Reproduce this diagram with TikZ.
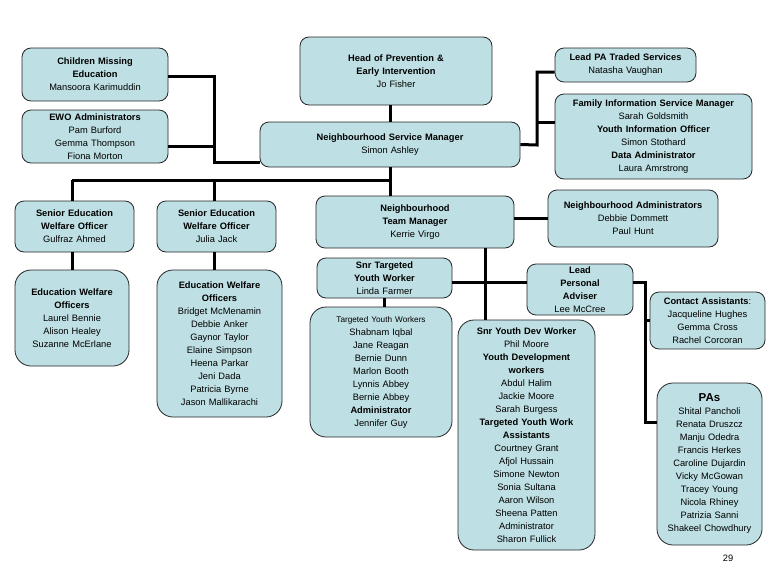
\documentclass[tikz,border=0pt]{standalone}
\usepackage{fontspec}
\setmainfont{Liberation Sans}
\begin{document}
\begin{tikzpicture}[x=1pt,y=-1pt,
  box/.style={draw=black!85,line width=0.8pt,fill=boxfill,rounded corners=9pt,align=center,inner sep=1pt,
    font=\fontsize{9.3}{13}\selectfont},
  tall/.style={box,rounded corners=16pt},
  link/.style={line width=3pt,black}]
\definecolor{boxfill}{HTML}{BEDFE3}
\useasboundingbox (0,0) rectangle (780,573);
% nodes
\node[box,minimum width=146,minimum height=53,text width=142] (cme) at (95,74.5) {\textbf{Children Missing}\\\textbf{Education}\\Mansoora Karimuddin};
\node[box,minimum width=146,minimum height=53,text width=142] (ewoa) at (95,136.5) {\textbf{EWO Administrators}\\Pam Burford\\Gemma Thompson\\Fiona Morton};
\node[box,minimum width=192,minimum height=68,text width=188] (head) at (396,71) {\textbf{Head of Prevention \&}\\\textbf{Early Intervention}\\Jo Fisher};
\node[box,minimum width=260,minimum height=45,text width=256] (nsm) at (390,144.5) {\textbf{Neighbourhood Service Manager}\\Simon Ashley};
\node[box,minimum width=141,minimum height=34,text width=137] (lpa) at (625.5,65) {\textbf{Lead PA Traded Services}\\Natasha Vaughan};
\node[box,minimum width=197,minimum height=85,text width=195] (fis) at (653.5,136.5) {\textbf{Family Information Service Manager}\\Sarah Goldsmith\\\textbf{Youth Information Officer}\\Simon Stothard\\\textbf{Data Administrator}\\Laura Amrstrong};
\node[box,minimum width=119,minimum height=51,text width=115] (sewo1) at (74.5,226.5) {\textbf{Senior Education}\\\textbf{Welfare Officer}\\Gulfraz Ahmed};
\node[box,minimum width=119,minimum height=51,text width=115] (sewo2) at (216.5,226.5) {\textbf{Senior Education}\\\textbf{Welfare Officer}\\Julia Jack};
\node[box,minimum width=198,minimum height=52,text width=194] (ntm) at (415,222) {\textbf{Neighbourhood}\\\textbf{Team Manager}\\Kerrie Virgo};
\node[box,minimum width=170,minimum height=57,text width=166] (nadm) at (633,218.5) {\textbf{Neighbourhood Administrators}\\Debbie Dommett\\Paul Hunt};
\node[tall,minimum width=114,minimum height=96,text width=110] (ewo1) at (72,318) {\textbf{Education Welfare}\\\textbf{Officers}\\Laurel Bennie\\Alison Healey\\Suzanne McErlane};
\node[tall,minimum width=125,minimum height=147,text width=121] (ewo2) at (219.5,343.5) {\textbf{Education Welfare}\\\textbf{Officers}\\Bridget McMenamin\\Debbie Anker\\Gaynor Taylor\\Elaine Simpson\\Heena Parkar\\Jeni Dada\\Patricia Byrne\\Jason Mallikarachi};
\node[box,minimum width=135,minimum height=40,text width=131] (styw) at (384.5,278) {\textbf{Snr Targeted}\\\textbf{Youth Worker}\\Linda Farmer};
\node[tall,minimum width=142,minimum height=130,text width=140] (tyw) at (381,372) {{\fontsize{8.2}{13}\selectfont Targeted Youth Workers}\\Shabnam Iqbal\\Jane Reagan\\Bernie Dunn\\Marlon Booth\\Lynnis Abbey\\Bernie Abbey\\\textbf{Administrator}\\Jennifer Guy};
\node[box,minimum width=106,minimum height=51,text width=102] (lpad) at (580,289.5) {\textbf{Lead}\\\textbf{Personal}\\\textbf{Adviser}\\Lee McCree};
\node[tall,minimum width=137,minimum height=230,text width=135] (sydw) at (526.5,435) {\textbf{Snr Youth Dev Worker}\\Phil Moore\\\textbf{Youth Development}\\\textbf{workers}\\Abdul Halim\\Jackie Moore\\Sarah Burgess\\\textbf{Targeted Youth Work}\\\textbf{Assistants}\\Courtney Grant\\Afjol Hussain\\Simone Newton\\Sonia Sultana\\Aaron Wilson\\Sheena Patten\\Administrator\\Sharon Fullick};
\node[box,minimum width=115,minimum height=57,text width=113] (ca) at (707.5,320.5) {\textbf{Contact Assistants}:\\Jacqueline Hughes\\Gemma Cross\\Rachel Corcoran};
\node[tall,minimum width=105,minimum height=162,text width=103] (pas) at (709.5,464) {{\fontsize{11.5}{13}\selectfont\textbf{PAs}}\\Shital Pancholi\\Renata Druszcz\\Manju Odedra\\Francis Herkes\\Caroline Dujardin\\Vicky McGowan\\Tracey Young\\Nicola Rhiney\\Patrizia Sanni\\Shakeel Chowdhury};
\node[font=\fontsize{9.3}{10}\selectfont,inner sep=0] (pg) at (728,558) {29};
% junction coordinates
\coordinate (jl) at (214,162);
\coordinate (jr) at (537,145);
\coordinate (jb) at (390,180);
\coordinate (jn) at (485,282);
\coordinate (jp) at (645,282);
% connectors
\draw[link] (head.south -| jb) -- (nsm.north -| jb);
\draw[link] (cme.east |- 0,76) -| (jl) -- (nsm.west |- jl);
\draw[link] (ewoa.east |- 0,146) -- (214,146);
\draw[link] (nsm.east) -- (jr) |- (lpa.west |- 0,72);
\draw[link] (jr |- 0,122) -- (fis.west |- 0,122);
\draw[link] (nsm.south -| jb) -- (ntm.north -| jb);
\draw[link] (72,180) -- (jb);
\draw[link] (72,180) -- (72,201);
\draw[link] (214,180) -- (214,201);
\draw[link] (sewo1.south -| 72,0) -- (ewo1.north -| 72,0);
\draw[link] (sewo2.south -| 214,0) -- (ewo2.north -| 214,0);
\draw[link] (ntm.east |- 0,218) -- (nadm.west |- 0,218);
\draw[link] (ntm.south -| jn) -- (sydw.north -| jn);
\draw[link] (styw.east |- jn) -- (lpad.west |- jn);
\draw[link] (styw.south) -- (tyw.north -| styw.south);
\draw[link] (lpad.east |- jp) -- (jp) |- (pas.west |- 0,422);
\draw[link] (jp |- 0,320) -- (ca.west |- 0,320);
\end{tikzpicture}
\end{document}
